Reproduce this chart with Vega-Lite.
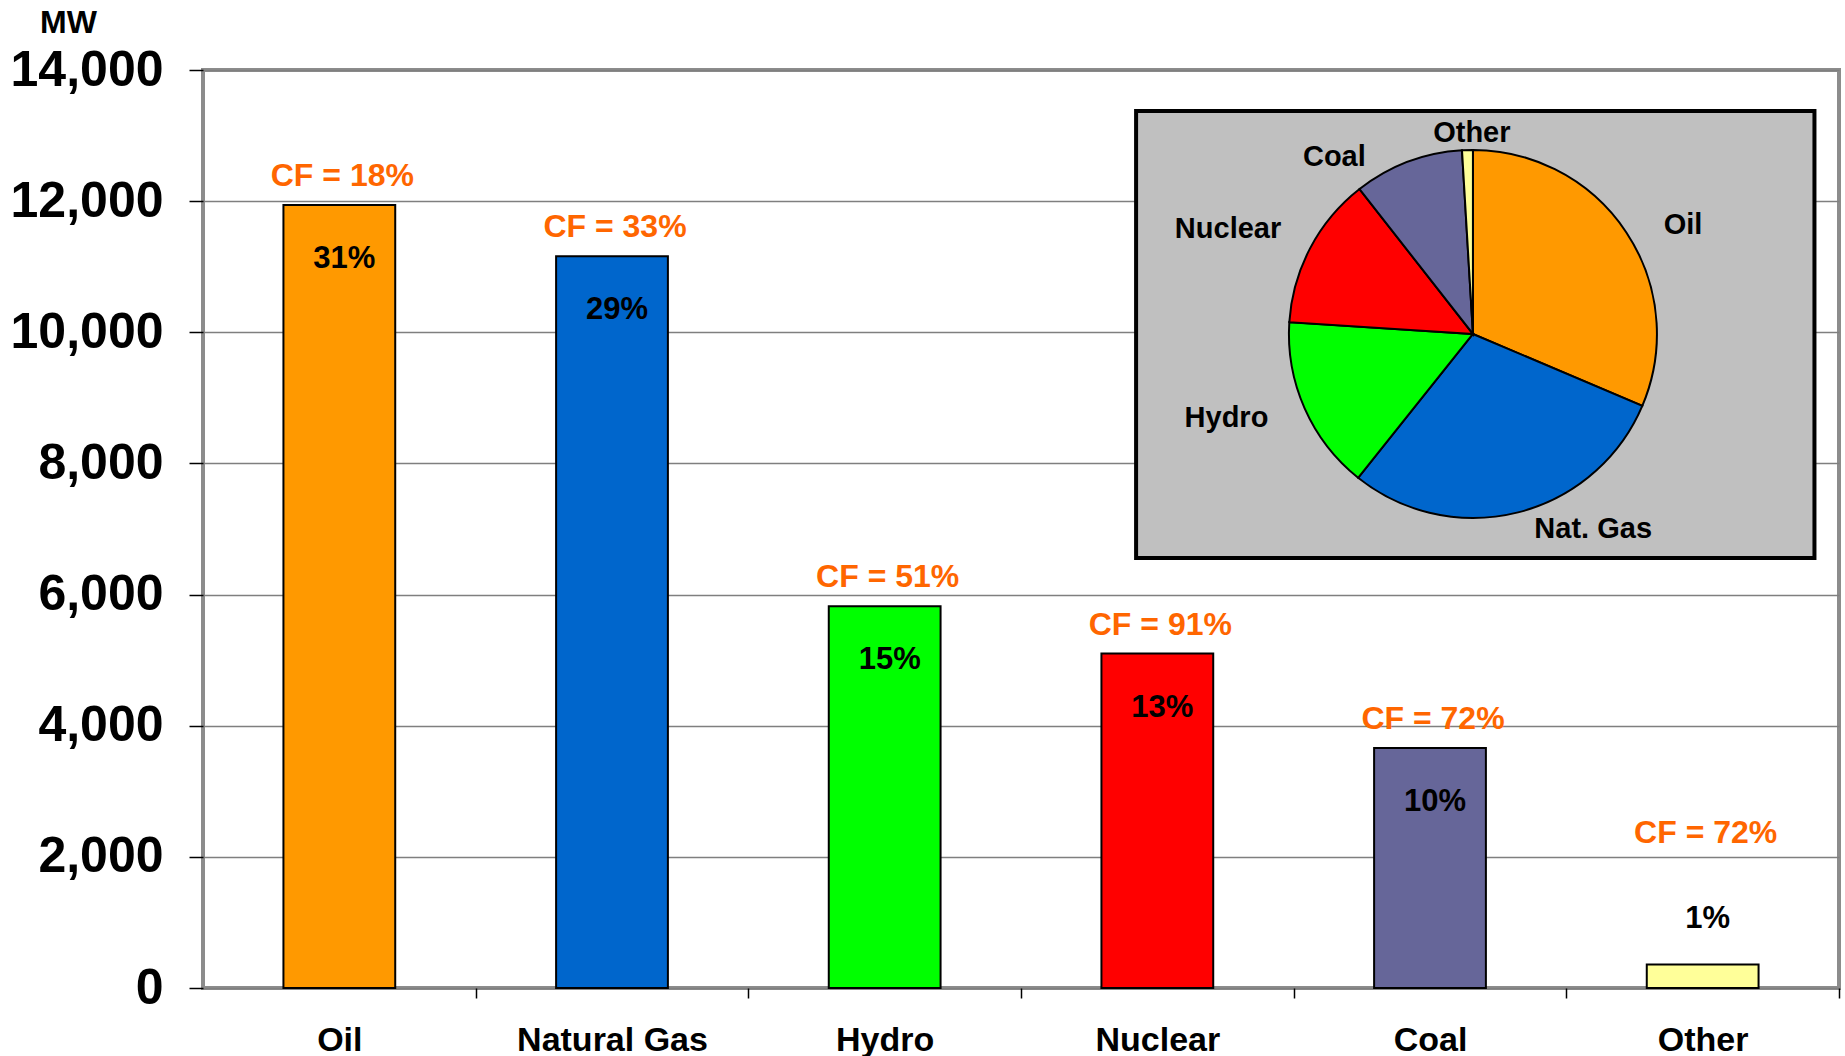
{
  "$schema": "https://vega.github.io/schema/vega-lite/v6.json",
  "width": 1636,
  "height": 918,
  "autosize": {"type": "none"},
  "padding": {"left": 203, "top": 70, "right": 6, "bottom": 68},
  "background": "white",
  "config": {"view": {"stroke": "#8c8c8c", "strokeWidth": 4}, "font": "Liberation Sans"},
  "data": {"values": [
    {"Source": "Oil", "Label": "Oil", "MW": 11940, "Share": "31%", "CF": "CF = 18%"},
    {"Source": "Natural Gas", "Label": "Nat. Gas", "MW": 11160, "Share": "29%", "CF": "CF = 33%"},
    {"Source": "Hydro", "Label": "Hydro", "MW": 5820, "Share": "15%", "CF": "CF = 51%"},
    {"Source": "Nuclear", "Label": "Nuclear", "MW": 5100, "Share": "13%", "CF": "CF = 91%"},
    {"Source": "Coal", "Label": "Coal", "MW": 3660, "Share": "10%", "CF": "CF = 72%"},
    {"Source": "Other", "Label": "Other", "MW": 360, "Share": "1%", "CF": "CF = 72%"}
  ]},
  "layer": [
    {
      "mark": {"type": "bar", "stroke": "black", "strokeWidth": 2},
      "encoding": {
        "x": {
          "field": "Source", "type": "nominal",
          "scale": {"domain": ["Oil", "Natural Gas", "Hydro", "Nuclear", "Coal", "Other"], "paddingInner": 0.59, "paddingOuter": 0.295},
          "axis": {"title": null, "labelAngle": 0, "labelFont": "Liberation Sans", "labelFontSize": 34, "labelFontWeight": "bold", "labelColor": "black", "labelPadding": 52, "labelBaseline": "alphabetic", "labelLimit": 400, "labelOffset": -136.33, "tickOffset": 136.33, "tickSize": 10, "tickColor": "black", "tickWidth": 1.5, "domain": false, "grid": false}
        },
        "y": {
          "field": "MW", "type": "quantitative",
          "scale": {"domain": [0, 14000], "nice": false},
          "axis": {"title": "MW", "titleAngle": 0, "titleX": -135, "titleY": -38, "titleAlign": "center", "titleBaseline": "alphabetic", "titleFont": "Liberation Sans", "titleFontSize": 32, "titleFontWeight": "bold", "titleColor": "black", "values": [0, 2000, 4000, 6000, 8000, 10000, 12000, 14000], "labelExpr": "format(datum.value, ',.0f')", "labelFont": "Liberation Sans", "labelFontSize": 50, "labelFontWeight": "bold", "labelColor": "black", "labelPadding": 26, "tickSize": 14, "tickColor": "black", "tickWidth": 1.5, "domain": false, "grid": true, "gridColor": "#7f7f7f", "gridWidth": 1.5}
        },
        "color": {
          "field": "Source", "type": "nominal",
          "scale": {"domain": ["Oil", "Natural Gas", "Hydro", "Nuclear", "Coal", "Other"], "range": ["#FF9900", "#0066CC", "#00FF00", "#FF0000", "#666699", "#FFFF99"]},
          "legend": null
        }
      }
    },
    {
      "transform": [{"filter": "datum.MW >= 1000"}],
      "mark": {"type": "text", "baseline": "alphabetic", "dy": -19, "dx": 3, "fontSize": 32, "fontWeight": "bold", "color": "#FF6600"},
      "encoding": {
        "x": {"field": "Source", "type": "nominal"},
        "y": {"field": "MW", "type": "quantitative"},
        "text": {"field": "CF"}
      }
    },
    {
      "transform": [{"filter": "datum.MW >= 1000"}],
      "mark": {"type": "text", "baseline": "middle", "dy": 54, "dx": 5, "fontSize": 31, "fontWeight": "bold", "color": "black"},
      "encoding": {
        "x": {"field": "Source", "type": "nominal"},
        "y": {"field": "MW", "type": "quantitative"},
        "text": {"field": "Share"}
      }
    },
    {
      "transform": [{"filter": "datum.MW < 1000"}],
      "mark": {"type": "text", "baseline": "middle", "dy": -131, "dx": 3, "fontSize": 32, "fontWeight": "bold", "color": "#FF6600"},
      "encoding": {
        "x": {"field": "Source", "type": "nominal"},
        "y": {"field": "MW", "type": "quantitative"},
        "text": {"field": "CF"}
      }
    },
    {
      "transform": [{"filter": "datum.MW < 1000"}],
      "mark": {"type": "text", "baseline": "middle", "dy": -45, "dx": 5, "fontSize": 31, "fontWeight": "bold", "color": "black"},
      "encoding": {
        "x": {"field": "Source", "type": "nominal"},
        "y": {"field": "MW", "type": "quantitative"},
        "text": {"field": "Share"}
      }
    },
    {
      "data": {"values": [{}]},
      "mark": {"type": "rect", "fill": "#C0C0C0", "stroke": "black", "strokeWidth": 4},
      "encoding": {
        "x": {"datum": "Nuclear", "type": "nominal", "bandPosition": 0.31},
        "x2": {"datum": "Other", "bandPosition": 1.5},
        "y": {"datum": 6558, "type": "quantitative"},
        "y2": {"datum": 13375}
      }
    },
    {
      "mark": {"type": "arc", "outerRadius": 184, "stroke": "black", "strokeWidth": 2},
      "encoding": {
        "x": {"datum": "Coal", "type": "nominal", "bandPosition": 0.884},
        "y": {"datum": 9974, "type": "quantitative"},
        "theta": {"field": "MW", "type": "quantitative", "stack": true},
        "color": {"field": "Source", "type": "nominal", "legend": null},
        "order": {"field": "MW", "sort": "descending"}
      }
    },
    {
      "mark": {"type": "text", "radius": 252, "dy": 30, "fontSize": 29, "fontWeight": "bold", "color": "black", "baseline": "middle"},
      "encoding": {
        "x": {"datum": "Coal", "type": "nominal", "bandPosition": 0.884},
        "y": {"datum": 9974, "type": "quantitative"},
        "theta": {"field": "MW", "type": "quantitative", "stack": true},
        "order": {"field": "MW", "sort": "descending"},
        "text": {"condition": {"test": "datum.Source === 'Oil'", "field": "Label"}, "value": ""}
      }
    },
    {
      "mark": {"type": "text", "radius": 205, "dx": 70, "dy": -4, "fontSize": 29, "fontWeight": "bold", "color": "black", "baseline": "middle"},
      "encoding": {
        "x": {"datum": "Coal", "type": "nominal", "bandPosition": 0.884},
        "y": {"datum": 9974, "type": "quantitative"},
        "theta": {"field": "MW", "type": "quantitative", "stack": true},
        "order": {"field": "MW", "sort": "descending"},
        "text": {"condition": {"test": "datum.Source === 'Natural Gas'", "field": "Label"}, "value": ""}
      }
    },
    {
      "mark": {"type": "text", "radius": 252, "dx": -16, "dy": -18, "fontSize": 29, "fontWeight": "bold", "color": "black", "baseline": "middle"},
      "encoding": {
        "x": {"datum": "Coal", "type": "nominal", "bandPosition": 0.884},
        "y": {"datum": 9974, "type": "quantitative"},
        "theta": {"field": "MW", "type": "quantitative", "stack": true},
        "order": {"field": "MW", "sort": "descending"},
        "text": {"condition": {"test": "datum.Source === 'Hydro'", "field": "Label"}, "value": ""}
      }
    },
    {
      "mark": {"type": "text", "radius": 252, "dx": -22, "dy": 13, "fontSize": 29, "fontWeight": "bold", "color": "black", "baseline": "middle"},
      "encoding": {
        "x": {"datum": "Coal", "type": "nominal", "bandPosition": 0.884},
        "y": {"datum": 9974, "type": "quantitative"},
        "theta": {"field": "MW", "type": "quantitative", "stack": true},
        "order": {"field": "MW", "sort": "descending"},
        "text": {"condition": {"test": "datum.Source === 'Nuclear'", "field": "Label"}, "value": ""}
      }
    },
    {
      "mark": {"type": "text", "radius": 205, "dx": -66, "dy": 15, "fontSize": 29, "fontWeight": "bold", "color": "black", "baseline": "middle"},
      "encoding": {
        "x": {"datum": "Coal", "type": "nominal", "bandPosition": 0.884},
        "y": {"datum": 9974, "type": "quantitative"},
        "theta": {"field": "MW", "type": "quantitative", "stack": true},
        "order": {"field": "MW", "sort": "descending"},
        "text": {"condition": {"test": "datum.Source === 'Coal'", "field": "Label"}, "value": ""}
      }
    },
    {
      "mark": {"type": "text", "radius": 205, "dx": 5, "dy": 4, "fontSize": 29, "fontWeight": "bold", "color": "black", "baseline": "middle"},
      "encoding": {
        "x": {"datum": "Coal", "type": "nominal", "bandPosition": 0.884},
        "y": {"datum": 9974, "type": "quantitative"},
        "theta": {"field": "MW", "type": "quantitative", "stack": true},
        "order": {"field": "MW", "sort": "descending"},
        "text": {"condition": {"test": "datum.Source === 'Other'", "field": "Label"}, "value": ""}
      }
    }
  ]
}
